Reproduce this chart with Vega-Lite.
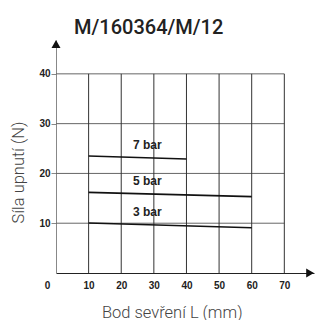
{
  "$schema": "https://vega.github.io/schema/vega-lite/v6.json",
  "width": 258,
  "height": 233,
  "autosize": {"type": "none"},
  "padding": {"left": 56, "top": 40, "right": 1, "bottom": 47},
  "background": "white",
  "config": {"view": {"stroke": null}, "axis": {"labelOverlap": false}},
  "title": {
    "text": "M/160364/M/12",
    "anchor": "start",
    "frame": "group",
    "dx": 18,
    "dy": 17,
    "offset": 3,
    "baseline": "alphabetic",
    "font": "Roboto",
    "fontSize": 20,
    "fontWeight": 500,
    "color": "#222"
  },
  "datasets": {
    "lines": [
      {"series": "7 bar", "x": 10, "y": 23.5},
      {"series": "7 bar", "x": 40, "y": 22.9},
      {"series": "5 bar", "x": 10, "y": 16.2},
      {"series": "5 bar", "x": 60, "y": 15.35},
      {"series": "3 bar", "x": 10, "y": 10.05},
      {"series": "3 bar", "x": 60, "y": 9.1}
    ],
    "labels": [
      {"label": "7 bar", "x": 28, "y": 25.8},
      {"label": "5 bar", "x": 28, "y": 18.4},
      {"label": "3 bar", "x": 28, "y": 12.2}
    ],
    "vgrid": [{"x": 10}, {"x": 20}, {"x": 30}, {"x": 40}, {"x": 50}, {"x": 60}, {"x": 70}],
    "hgrid": [{"y": 10}, {"y": 20}, {"y": 30}, {"y": 40}],
    "yarrow": [{"axis": "y"}],
    "xarrow": [{"axis": "x"}]
  },
  "layer": [
    {
      "data": {"name": "hgrid"},
      "mark": {"type": "rule", "color": "#666", "strokeWidth": 1},
      "encoding": {
        "y": {"field": "y", "type": "quantitative", "scale": {"domain": [0, 46.8], "nice": false, "zero": true},
          "axis": {
            "values": [10, 20, 30, 40],
            "tickCount": 10,
            "title": "Síla upnutí (N)",
            "titleFont": "Roboto",
            "titleFontWeight": 300,
            "titleFontSize": 16.5,
            "titleColor": "#444",
            "titleAngle": -90,
            "titleX": -32.5,
            "titleY": 132,
            "titleAlign": "center",
            "titleBaseline": "alphabetic",
            "grid": false,
            "domainColor": "#888",
            "domainWidth": 1,
            "tickColor": "#888",
            "tickSize": 5,
            "labelPadding": 1,
            "labelOverlap": false,
            "labelFlush": false,
            "labelFont": "Liberation Sans",
            "labelFontWeight": "bold",
            "labelFontSize": 10,
            "labelColor": "#222"
          }},
        "x": {"datum": 0, "type": "quantitative"},
        "x2": {"datum": 70}
      }
    },
    {
      "data": {"name": "vgrid"},
      "mark": {"type": "rule", "color": "#333", "strokeWidth": 1},
      "encoding": {
        "x": {"field": "x", "type": "quantitative", "scale": {"domain": [0, 79.1], "nice": false, "zero": true},
          "axis": {
            "values": [0, 10, 20, 30, 40, 50, 60, 70],
            "tickCount": 10,
            "title": "Bod sevření L (mm)",
            "titleFont": "Roboto",
            "titleFontWeight": 300,
            "titleFontSize": 16.5,
            "titleColor": "#444",
            "titleX": 115.7,
            "titleY": 44,
            "titleAlign": "center",
            "titleBaseline": "alphabetic",
            "grid": false,
            "ticks": false,
            "tickSize": 0,
            "domainColor": "#222",
            "domainWidth": 1,
            "labelPadding": 15,
            "labelOverlap": false,
            "labelFlush": false,
            "labelBaseline": "alphabetic",
            "labelFont": "Liberation Sans",
            "labelFontWeight": "bold",
            "labelFontSize": 10,
            "labelColor": "#222",
            "labelOffset": {"condition": {"test": "datum.value === 0", "value": -9}, "value": 0}
          }},
        "y": {"datum": 0, "type": "quantitative"},
        "y2": {"datum": 40}
      }
    },
    {
      "data": {"name": "lines"},
      "mark": {"type": "line", "color": "#111", "strokeWidth": 1.6},
      "encoding": {
        "x": {"field": "x", "type": "quantitative"},
        "y": {"field": "y", "type": "quantitative"},
        "detail": {"field": "series"}
      }
    },
    {
      "data": {"name": "labels"},
      "mark": {"type": "text", "font": "Liberation Sans", "fontWeight": "bold", "fontSize": 12, "color": "#222", "align": "center", "baseline": "middle"},
      "encoding": {
        "x": {"field": "x", "type": "quantitative"},
        "y": {"field": "y", "type": "quantitative"},
        "text": {"field": "label"}
      }
    },
    {
      "data": {"name": "yarrow"},
      "mark": {"type": "point", "shape": "triangle-up", "size": 81, "filled": true, "color": "#111", "opacity": 1},
      "encoding": {
        "x": {"datum": 0, "type": "quantitative"},
        "y": {"datum": 46.0, "type": "quantitative"}
      }
    },
    {
      "data": {"name": "xarrow"},
      "mark": {"type": "point", "shape": "triangle-right", "size": 81, "filled": true, "color": "#111", "opacity": 1},
      "encoding": {
        "x": {"datum": 77.9, "type": "quantitative"},
        "y": {"datum": 0, "type": "quantitative"}
      }
    }
  ]
}
